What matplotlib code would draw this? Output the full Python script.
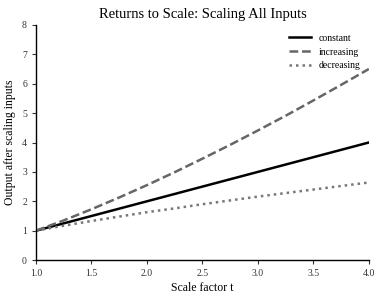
import matplotlib
matplotlib.use("Agg")
import matplotlib.pyplot as plt

# values
t = [1.0, 1.25, 1.5, 1.75, 2.0, 2.25, 2.5, 2.75, 3.0, 3.25, 3.5, 3.75, 4.0]
constant = [1.0, 1.25, 1.5, 1.75, 2.0, 2.25, 2.5, 2.75, 3.0, 3.25, 3.5, 3.75, 4.0]
increasing = [1.0, 1.35, 1.73, 2.13, 2.55, 2.99, 3.45, 3.92, 4.41, 4.91, 5.43, 5.96, 6.50]
decreasing = [1.0, 1.17, 1.33, 1.48, 1.63, 1.76, 1.90, 2.03, 2.16, 2.28, 2.40, 2.52, 2.64]

plt.rcParams['font.family'] = ['Liberation Serif', 'DejaVu Serif']

fig = plt.figure(figsize=(3.83, 3.0), dpi=100)
ax = fig.add_axes([0.094, 0.133, 0.869, 0.784])

ax.plot(t, constant, color='black', lw=1.8, label='constant')
ax.plot(t, increasing, color='#666666', lw=1.8, ls=(0, (3.5, 1.5)), label='increasing')
ax.plot(t, decreasing, color='#777777', lw=1.8, ls=(0, (1, 1.6)), label='decreasing')

ax.set_xlim(1.0, 4.0)
ax.set_ylim(0, 8)
ax.set_xticks([1.0, 1.5, 2.0, 2.5, 3.0, 3.5, 4.0])
ax.set_yticks(range(9))
ax.tick_params(labelsize=7, length=3, width=0.8, colors='#333333')
for s in ['top', 'right']:
    ax.spines[s].set_visible(False)
for s in ['left', 'bottom']:
    ax.spines[s].set_linewidth(1.0)

ax.set_title('Returns to Scale: Scaling All Inputs', fontsize=10.5, pad=5)
ax.set_xlabel('Scale factor t', fontsize=8.5, labelpad=3)
ax.set_ylabel('Output after scaling inputs', fontsize=8.5, labelpad=4)
ax.legend(loc='upper right', frameon=False, fontsize=7, handlelength=2.2)

fig.savefig('out.png', dpi=100)
